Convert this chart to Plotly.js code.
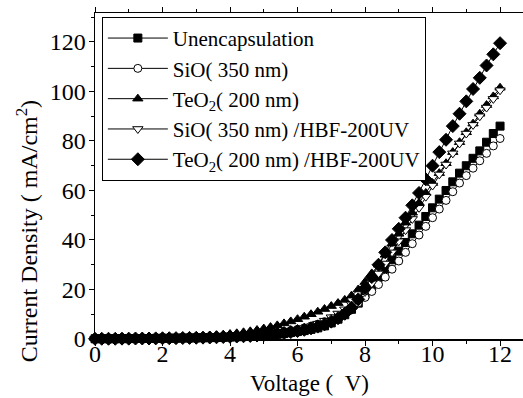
<!DOCTYPE html>
<html>
<head>
<meta charset="utf-8">
<script src="https://cdn.plot.ly/plotly-3.0.1.min.js"></script>
<style>html,body{margin:0;padding:0;background:#fff;}#chart{width:523px;height:398px;}</style>
</head>
<body>
<div id="chart"></div>
<script>
// Voltage (V)
var voltage = [0,0.2,0.4,0.6,0.8,1.0,1.2,1.4,1.6,1.8,2.0,2.2,2.4,2.6,2.8,3.0,3.2,3.4,3.6,3.8,4.0,4.2,4.4,4.6,4.8,5.0,5.2,5.4,5.6,5.8,6.0,6.2,6.4,6.6,6.8,7.0,7.2,7.4,7.6,7.8,8.0,8.2,8.4,8.6,8.8,9.0,9.2,9.4,9.6,9.8,10.0,10.2,10.4,10.6,10.8,11.0,11.2,11.4,11.6,11.8,12.0];

// Current density (mA/cm^2)
var unencapsulation = [0.1,0.1,0.1,0.1,0.15,0.15,0.2,0.2,0.2,0.25,0.3,
  0.3,0.35,0.4,0.4,0.45,0.5,0.55,0.6,0.7,0.8,
  0.9,1.0,1.1,1.3,1.5,1.7,1.9,2.2,2.6,3.0,
  3.4,3.9,4.5,5.3,6.5,8.0,9.8,12.0,14.5,18.0,
  21.5,25.0,28.5,32.0,35.5,39.0,42.5,46.0,49.5,53.0,
  56.5,60.0,63.5,67.0,70.0,73.0,76.0,79.5,83.0,86.0];

var sio350 = [0.2,0.2,0.2,0.2,0.25,0.25,0.3,0.3,0.35,0.35,0.4,
  0.45,0.5,0.55,0.6,0.65,0.7,0.8,0.9,1.0,1.1,
  1.25,1.4,1.6,1.8,2.0,2.3,2.6,3.0,3.4,3.9,
  4.5,5.2,6.0,7.0,8.2,9.5,11.0,12.7,14.6,16.8,
  19.2,22.0,25.0,28.2,31.5,35.0,38.5,42.0,45.5,49.0,
  52.5,56.0,59.5,63.0,66.0,69.0,72.0,75.0,78.0,81.0];

var teo2200 = [0.3,0.3,0.3,0.35,0.4,0.4,0.45,0.5,0.5,0.55,0.6,
  0.65,0.7,0.8,0.9,1.0,1.1,1.3,1.5,1.7,2.0,
  2.3,2.7,3.1,3.6,4.2,4.8,5.5,6.3,7.1,8.0,
  9.0,10.0,11.0,12.1,13.3,14.5,15.8,17.5,20.0,23.0,
  26.5,30.0,34.0,38.5,42.5,47.0,51.0,55.0,59.0,63.0,
  67.0,71.0,75.5,79.5,83.5,87.0,91.0,94.5,98.0,101.5];

var sioHbf = [0.15,0.15,0.15,0.2,0.2,0.2,0.25,0.25,0.3,0.3,0.35,
  0.4,0.45,0.5,0.55,0.6,0.7,0.8,0.9,1.0,1.1,
  1.2,1.35,1.5,1.7,1.9,2.2,2.5,2.9,3.3,3.8,
  4.4,5.1,6.2,7.4,8.8,10.3,12.0,14.0,16.3,19.0,
  22.5,26.5,30.5,35.0,39.5,44.0,48.5,53.0,57.5,62.0,
  66.5,70.5,75.0,79.0,83.0,86.5,90.0,93.5,97.0,100.5];

var teo2Hbf = [0.1,0.1,0.1,0.1,0.15,0.15,0.2,0.2,0.2,0.25,0.3,
  0.3,0.35,0.4,0.45,0.5,0.55,0.6,0.7,0.8,0.9,
  1.0,1.1,1.25,1.4,1.6,1.8,2.1,2.4,2.8,3.2,
  3.7,4.3,5.0,5.9,7.0,8.4,10.2,12.6,16.0,20.5,
  25.0,30.0,35.0,40.0,44.5,49.0,54.0,59.0,64.5,70.0,
  75.5,80.5,86.0,91.0,96.0,101.0,105.5,110.5,115.0,119.5];

var seriesNames = ["Unencapsulation","SiO( 350 nm)","TeO<sub>2</sub>( 200 nm)","SiO( 350 nm) /HBF-200UV","TeO<sub>2</sub>( 200 nm) /HBF-200UV"];
var xTitle = "Voltage (\u00A0\u00A0V)";
var yTitle = "Current Density (\u00A0mA/cm<sup>2</sup>)";
var xTicks = [0,2,4,6,8,10,12];
var yTicks = [0,20,40,60,80,100,120];

var seriesData = [unencapsulation, sio350, teo2200, sioHbf, teo2Hbf];
var symbols = ["square","circle","triangle-up","triangle-down","diamond"];
var fills = ["#000","#fff","#000","#fff","#000"];
var sizes = [8,8,9,9,10];

var FAM = "Liberation Serif";

var traces = seriesData.map(function(d,i){
  return {
    x: voltage, y: d, name: seriesNames[i], type: "scatter", mode: "lines+markers",
    cliponaxis: false,
    line: {color: "#000", width: 1},
    marker: {symbol: symbols[i], size: sizes[i], color: fills[i], line: {color: "#000", width: 1}}
  };
});

var layout = {
  width: 523, height: 398,
  margin: {l: 95, r: 0, t: 13, b: 59},
  paper_bgcolor: "#fff", plot_bgcolor: "#fff",
  showlegend: true,
  font: {family: FAM, size: 20, color: "#000"},
  xaxis: {
    range: [0, 12.68], tickvals: xTicks, ticktext: xTicks.map(String),
    ticks: "outside", ticklen: 5, tickwidth: 1, tickcolor: "#000", ticklabelstandoff: -12,
    minor: {tickvals: [1,3,5,7,9,11], ticks: "outside", ticklen: 3, tickcolor: "#000"},
    showline: true, linecolor: "#000", linewidth: 1.5, mirror: "allticks", showgrid: false, zeroline: false,
    tickfont: {family: FAM, size: 24, color: "#000"}
  },
  yaxis: {
    range: [0, 131.7], tickvals: yTicks, ticktext: yTicks.map(String),
    ticks: "outside", ticklen: 5, tickwidth: 1, tickcolor: "#000", ticklabelstandoff: -2,
    minor: {tickvals: [10,30,50,70,90,110,130], ticks: "outside", ticklen: 3, tickcolor: "#000"},
    showline: true, linecolor: "#000", linewidth: 1.5, mirror: false, showgrid: false, zeroline: false,
    tickfont: {family: FAM, size: 24, color: "#000"}
  },
  annotations: [
    {text: xTitle, xref: "paper", yref: "paper", x: 0.5, y: -0.138, xanchor: "center", yanchor: "middle",
     showarrow: false, font: {family: FAM, size: 23, color: "#000"}},
    {text: yTitle, xref: "paper", yref: "paper", x: -0.157, y: 0.33, xanchor: "center", yanchor: "middle",
     textangle: -90, showarrow: false, font: {family: FAM, size: 24, color: "#000"}}
  ],
  legend: {
    x: 0.016, y: 0.988, xanchor: "left", yanchor: "top",
    bgcolor: "#fff", bordercolor: "#000", borderwidth: 1,
    font: {family: FAM, size: 21, color: "#000"},
    itemwidth: 60, tracegroupgap: 0
  }
};

Plotly.newPlot("chart", traces, layout, {displayModeBar: false, staticPlot: true});
</script>
</body>
</html>
